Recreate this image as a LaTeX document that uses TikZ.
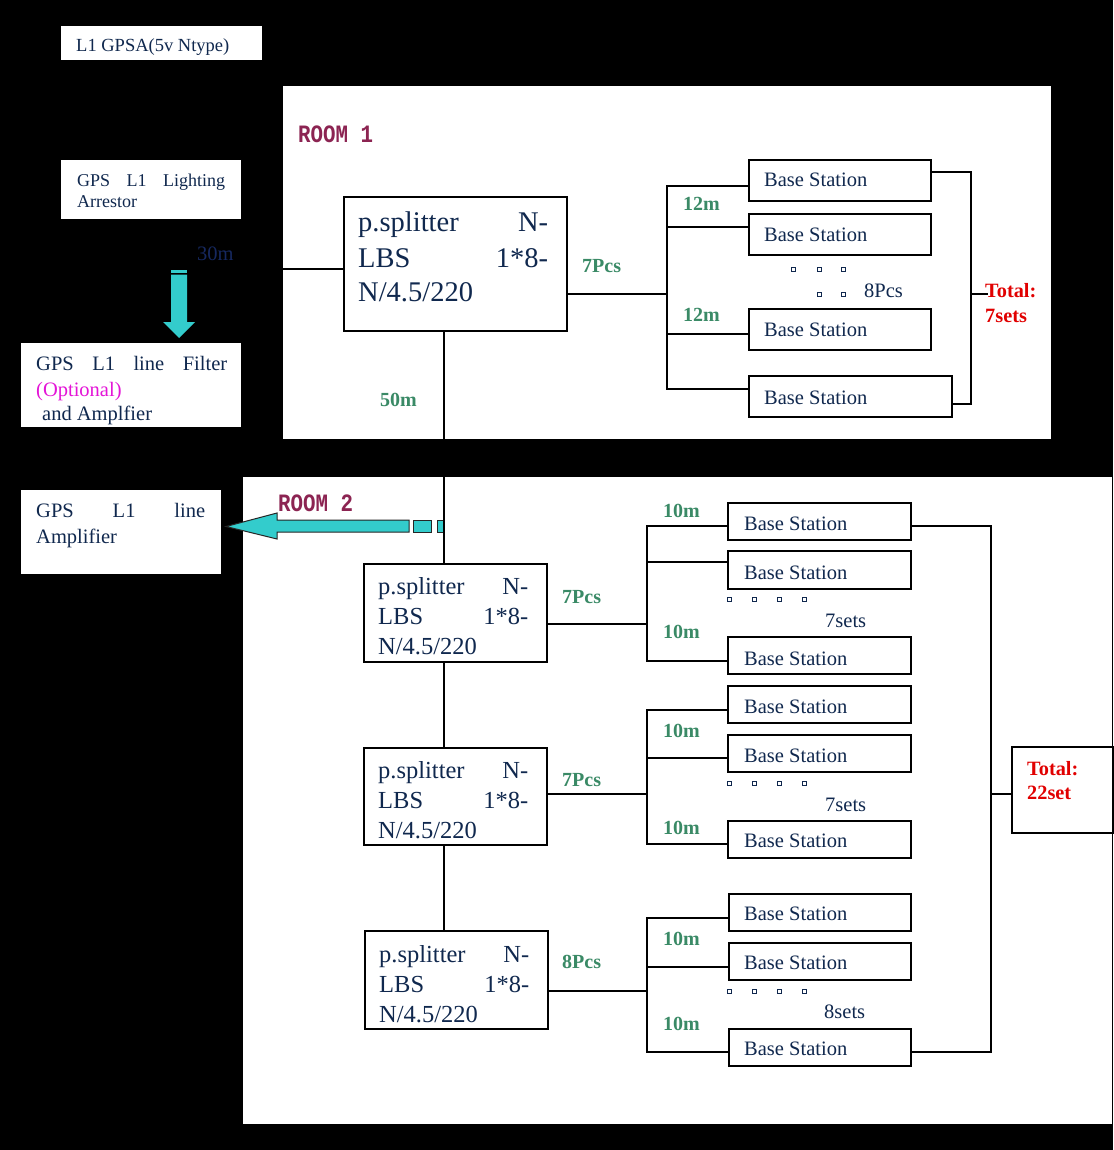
\documentclass[tikz,border=0pt]{standalone}
\usepackage{fontspec}
\usepackage{graphicx}
\setmainfont{Liberation Serif}
\newfontfamily\roomfont{Liberation Mono}
\newcommand{\fs}[1]{\fontsize{#1}{#1}\selectfont}
\definecolor{navy}{RGB}{16,40,78}
\definecolor{grn}{RGB}{58,138,102}
\definecolor{roomc}{RGB}{140,36,82}
\definecolor{redt}{RGB}{225,0,0}
\definecolor{mag}{RGB}{228,20,215}
\definecolor{cyanA}{RGB}{51,204,204}
\definecolor{blueT}{RGB}{22,40,95}
\definecolor{wirec}{RGB}{0,0,0}
\newcommand{\mkbox}[6][box]{\node[#1, minimum width={(#5-#3)*1pt}, minimum height={(#6-#4)*1pt}] (#2) at (#3,#4) {};}
\tikzset{
  box/.style={draw=wirec, line width=1.6pt, fill=white, inner sep=0pt, anchor=north west},
  plain/.style={draw=none, fill=white, inner sep=0pt, anchor=north west},
  roomst/.style={draw=none, fill=white, inner sep=0pt, anchor=north west},
  txt/.style={text=navy, font=\fs{20.5}, inner sep=0pt, anchor=base west},
  sptxt/.style={text=navy, inner sep=0pt, anchor=base west},
  glbl/.style={text=grn, font=\fs{20}\bfseries, inner sep=0pt, anchor=base west},
  rlbl/.style={text=redt, font=\fs{20.3}\bfseries, inner sep=0pt, anchor=base west},
  roomtxt/.style={text=roomc, font=\roomfont\bfseries\fs{20.8}, inner sep=0pt, anchor=base west},
  wire/.style={draw=wirec, line width=1.6pt},
  dotsq/.style={draw=navy, line width=0.8pt},
  cyarrow/.style={fill=cyanA, draw=none},
  cyarrowo/.style={fill=cyanA, draw=black!85, line width=1pt}
}
\begin{document}
\begin{tikzpicture}[x=1pt,y=-1pt]
\fill[black] (0,0) rectangle (1113,1150);
\useasboundingbox (0,0) rectangle (1113,1150);

% ---------- left column ----------
\mkbox[plain]{gpsa}{61}{26}{262}{60}
\node[txt, font=\fs{18.5}] (gpsaT) at (76,52) {L1 GPSA(5v Ntype)};

\mkbox[plain]{arr}{61}{160}{241}{219}
\node[txt, font=\fs{18}] (arrT1) at (77,187) {\hbox to 148pt{GPS\hfill L1\hfill Lighting}};
\node[txt, font=\fs{18}] (arrT2) at (77,208) {Arrestor};

\node[txt, text=blueT] (l30) at (197,260) {30m};

\fill[cyarrow] (171,270) rectangle (187,272.5);
\fill[cyarrow] (171,274.5) -- (187,274.5) -- (187,322) -- (195,322) -- (179,338) -- (163,322) -- (171,322) -- cycle;

\mkbox[plain]{filt}{21}{343}{241}{427}
\node[txt] (filtT1) at (36,370) {\hbox to 191pt{GPS\hfill L1\hfill line\hfill Filter}};
\node[txt, text=mag] (filtT2) at (36,396) {(Optional)};
\node[txt] (filtT3) at (42,420) {and Amplfier};

\mkbox[plain]{amp}{21}{490}{221}{574}
\node[txt] (ampT1) at (36,517) {\hbox to 169pt{GPS\hfill L1\hfill line}};
\node[txt] (ampT2) at (36,543) {Amplifier};

% ---------- ROOM 1 ----------
\mkbox[roomst]{room1}{283}{86}{1051}{439}
\node[roomtxt] (r1lbl) at (298,143) {\scalebox{1}[1.2]{ROOM 1}};

\mkbox{sp1}{343}{196}{566}{330}
\node[sptxt, font=\fs{28.5}] (sp1a) at (358,232) {\hbox to 190pt{p.splitter\hfill N-}};
\node[sptxt, font=\fs{28.5}] (sp1b) at (358,267) {\hbox to 190pt{LBS\hfill 1*8-}};
\node[sptxt, font=\fs{28.5}] (sp1c) at (358,301) {N/4.5/220};

\mkbox{bs11}{748}{159}{930}{200}
\mkbox{bs12}{748}{213}{930}{254}
\mkbox{bs13}{748}{308}{930}{349}
\mkbox{bs14}{748}{375}{951}{416}
\node[txt] (bs11t) at (764,187) {Base Station};
\node[txt] (bs12t) at (764,242) {Base Station};
\node[txt] (bs13t) at (764,336) {Base Station};
\node[txt] (bs14t) at (764,404) {Base Station};

\coordinate (in1) at (283,269);
\draw[wire] (in1) -- (in1 -| sp1.west);
\coordinate (b1m) at (667,294);
\draw[wire] (b1m -| sp1.east) -- (b1m);
\coordinate (b1t) at (667,186);
\coordinate (b1b) at (667,389);
\draw[wire] (b1t -| bs11.west) -- (b1t) -- (b1b) -- (b1b -| bs14.west);
\coordinate (b1c) at (667,227);
\draw[wire] (b1c) -- (b1c -| bs12.west);
\coordinate (b1d) at (667,334);
\draw[wire] (b1d) -- (b1d -| bs13.west);

\node[rlbl] (tot1a) at (985,297) {Total:};
\node[rlbl] (tot1b) at (985,322) {7sets};
\coordinate (r1t) at (971,172);
\coordinate (r1b) at (971,404);
\draw[wire] (r1t -| bs11.east) -- (r1t) -- (r1b) -- (r1b -| bs14.east);
\coordinate (r1m) at (971,294);
\draw[wire] (r1m) -- ([xshift=3pt]tot1a.west |- r1m);

\node[glbl] (pcs1) at (582,272) {7Pcs};
\node[glbl] (m12a) at (683,211) {12m};
\node[glbl] (m12b) at (683,321) {12m};
\node[glbl] (m50) at (380,406) {50m};
\foreach \x in {793,819,843} \draw[dotsq] (\x-2,267) rectangle ++(4,4);
\foreach \x in {819,843} \draw[dotsq] (\x-2,292) rectangle ++(4,4);
\node[txt] (pcs8) at (864,297) {8Pcs};

% ---------- ROOM 2 ----------
\mkbox[roomst]{room2}{243}{477}{1112}{1124}
\node[roomtxt] (r2lbl) at (278,511) {\scalebox{1}[1.2]{ROOM 2}};

\filldraw[cyarrowo] (409,520) -- (277,520) -- (277,513) -- (226,526.5) -- (277,539) -- (277,532) -- (409,532) -- cycle;
\filldraw[cyarrowo] (413,520) rectangle (431,532);
\filldraw[cyarrowo] (437,520) rectangle (444,532);

\mkbox{sp2}{363}{563}{546}{661}
\mkbox{sp3}{363}{747}{546}{844}
\mkbox{sp4}{364}{930}{547}{1028}
\foreach \n/\x/\y in {sp2/378/594, sp3/378/778, sp4/379/962}{
  \node[sptxt, font=\fs{24.5}] (\n a) at (\x,\y) {\hbox to 150pt{p.splitter\hfill N-}};
  \node[sptxt, font=\fs{24.5}] (\n b) at (\x,\y+30) {\hbox to 150pt{LBS\hfill 1*8-}};
  \node[sptxt, font=\fs{24.5}] (\n c) at (\x,\y+60) {N/4.5/220};
}

\coordinate (vx) at (444,0);
\draw[wire] (sp1.south -| vx) -- (sp2.north -| vx);
\draw[wire] (sp2.south -| vx) -- (sp3.north -| vx);
\draw[wire] (sp3.south -| vx) -- (sp4.north -| vx);

% base stations room 2
\mkbox{bsA}{727}{502}{910}{539}
\mkbox{bsB}{727}{550}{910}{588}
\mkbox{bsC}{727}{636}{910}{673}
\mkbox{bsD}{727}{685}{910}{722}
\mkbox{bsE}{727}{734}{910}{771}
\mkbox{bsF}{727}{820}{910}{857}
\mkbox{bsG}{728}{893}{910}{930}
\mkbox{bsH}{728}{942}{910}{979}
\mkbox{bsI}{728}{1028}{910}{1065}
\foreach \n/\y in {A/530, B/579, C/665, D/713, E/762, F/847, G/920, H/969, I/1055}
  \node[txt] (bs\n t) at (744,\y) {Base Station};

% group buses
\foreach \s/\m/\ta/\ya/\tb/\yb/\tc/\yc in {sp2/624/bsA/526/bsB/562/bsC/661, sp3/794/bsD/710/bsE/758/bsF/844, sp4/991/bsG/918/bsH/967/bsI/1052}{
  \draw[wire] (\s.east |- 0,\m) -- (647,\m);
  \draw[wire] (\ta.west |- 0,\ya) -- (647,\ya) -- (647,\yc) -- (\tc.west |- 0,\yc);
  \draw[wire] (647,\yb) -- (\tb.west |- 0,\yb);
}

% right bus + total
\mkbox{tot2}{1011}{746}{1112}{832}
\draw[wire] (bsA.east |- 0,526) -- (991,526) -- (991,1052) -- (bsI.east |- 0,1052);
\draw[wire] (991,794) -- (tot2.west |- 0,794);
\node[rlbl] (tot2a) at (1027,775) {Total:};
\node[rlbl] (tot2b) at (1027,799) {22set};

% labels room 2
\node[glbl] (pcsA) at (562,603) {7Pcs};
\node[glbl] (pcsB) at (562,786) {7Pcs};
\node[glbl] (pcsC) at (562,968) {8Pcs};
\foreach \y [count=\i] in {517,638,737,834,945,1030}
  \node[glbl] (m10\i) at (663,\y) {10m};
\foreach \y in {599,783,991}
  \foreach \x in {729,754,779,804}
    \draw[dotsq] (\x-2,\y-2) rectangle ++(4,4);
\node[txt] (sets1) at (825,627) {7sets};
\node[txt] (sets2) at (825,811) {7sets};
\node[txt] (sets3) at (824,1018) {8sets};
\end{tikzpicture}
\end{document}
